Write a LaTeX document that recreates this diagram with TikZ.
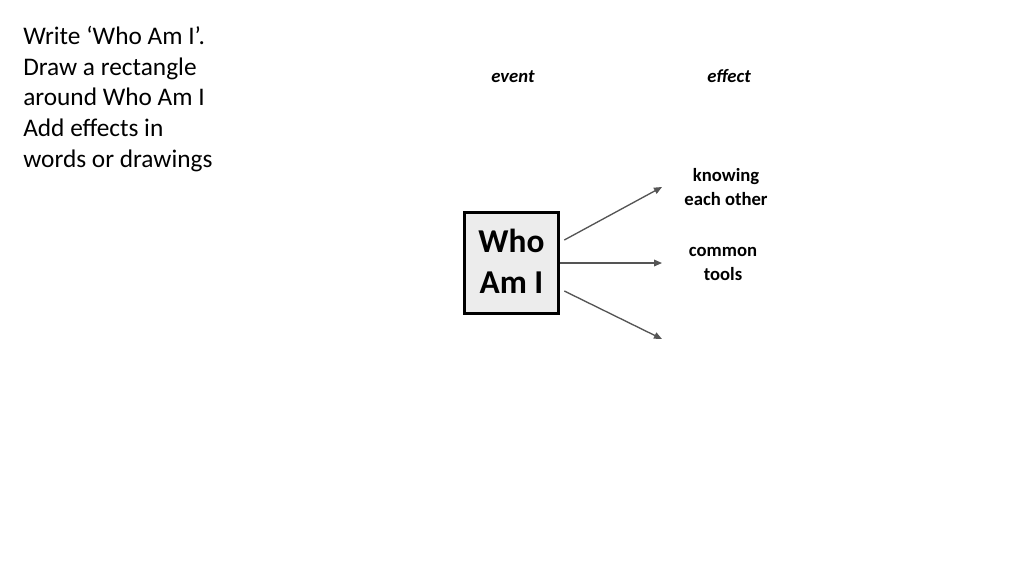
\documentclass[tikz,border=0pt]{standalone}
\usepackage{fontspec}
\setmainfont{Carlito}
\usepackage{xcolor}
\usetikzlibrary{arrows.meta}
\definecolor{boxgray}{RGB}{236, 236, 236}
\definecolor{arrowgray}{RGB}{85, 85, 85}

\begin{document}
\begin{tikzpicture}[
    x=0.75pt, y=-0.75pt,
    task/.style={anchor=north west, align=left, inner sep=0pt, font=\fontsize{19}{23}\selectfont},
    head/.style={text height=10pt, text depth=3pt, font=\fontsize{14}{17}\selectfont\bfseries\itshape},
    event/.style={rectangle, draw=black, line width=2.2pt, fill=boxgray, minimum width=71pt, minimum height=76pt, align=center, text depth=3pt, font=\fontsize{25}{31}\selectfont\bfseries},
    effect/.style={align=center, font=\fontsize{14}{17.5}\selectfont\bfseries},
    arrow/.style={-{Triangle[length=6pt, width=5pt]}, draw=arrowgray, fill=arrowgray, line width=1pt}
]
    \useasboundingbox (0,0) rectangle (1024,576);

    % Task
    \node[task] (task) at (23,26) {Write ‘Who Am I’.\\Draw a rectangle\\around Who Am I\\Add effects in\\words or drawings};

    % Headings
    \node[head] (event_head) at (513,78) {event};
    \node[head] (effect_head) at (729,78) {effect};

    % Event
    \node[event] (who) at (511.5,263) {Who\\Am I};

    % Effects
    \node[effect] (knowing) at (726,187) {knowing\\each other};
    \node[effect] (tools) at (723,264) {common\\tools};
    \coordinate (up) at (662,187);
    \coordinate (mid) at (662,263);
    \coordinate (down) at (662,339);

    % Arrows
    \draw[arrow] ([xshift=3pt]who.east |- 0,240) -- (up);
    \draw[arrow] (who.east) -- (mid);
    \draw[arrow] ([xshift=3pt]who.east |- 0,291) -- (down);

\end{tikzpicture}
\end{document}
